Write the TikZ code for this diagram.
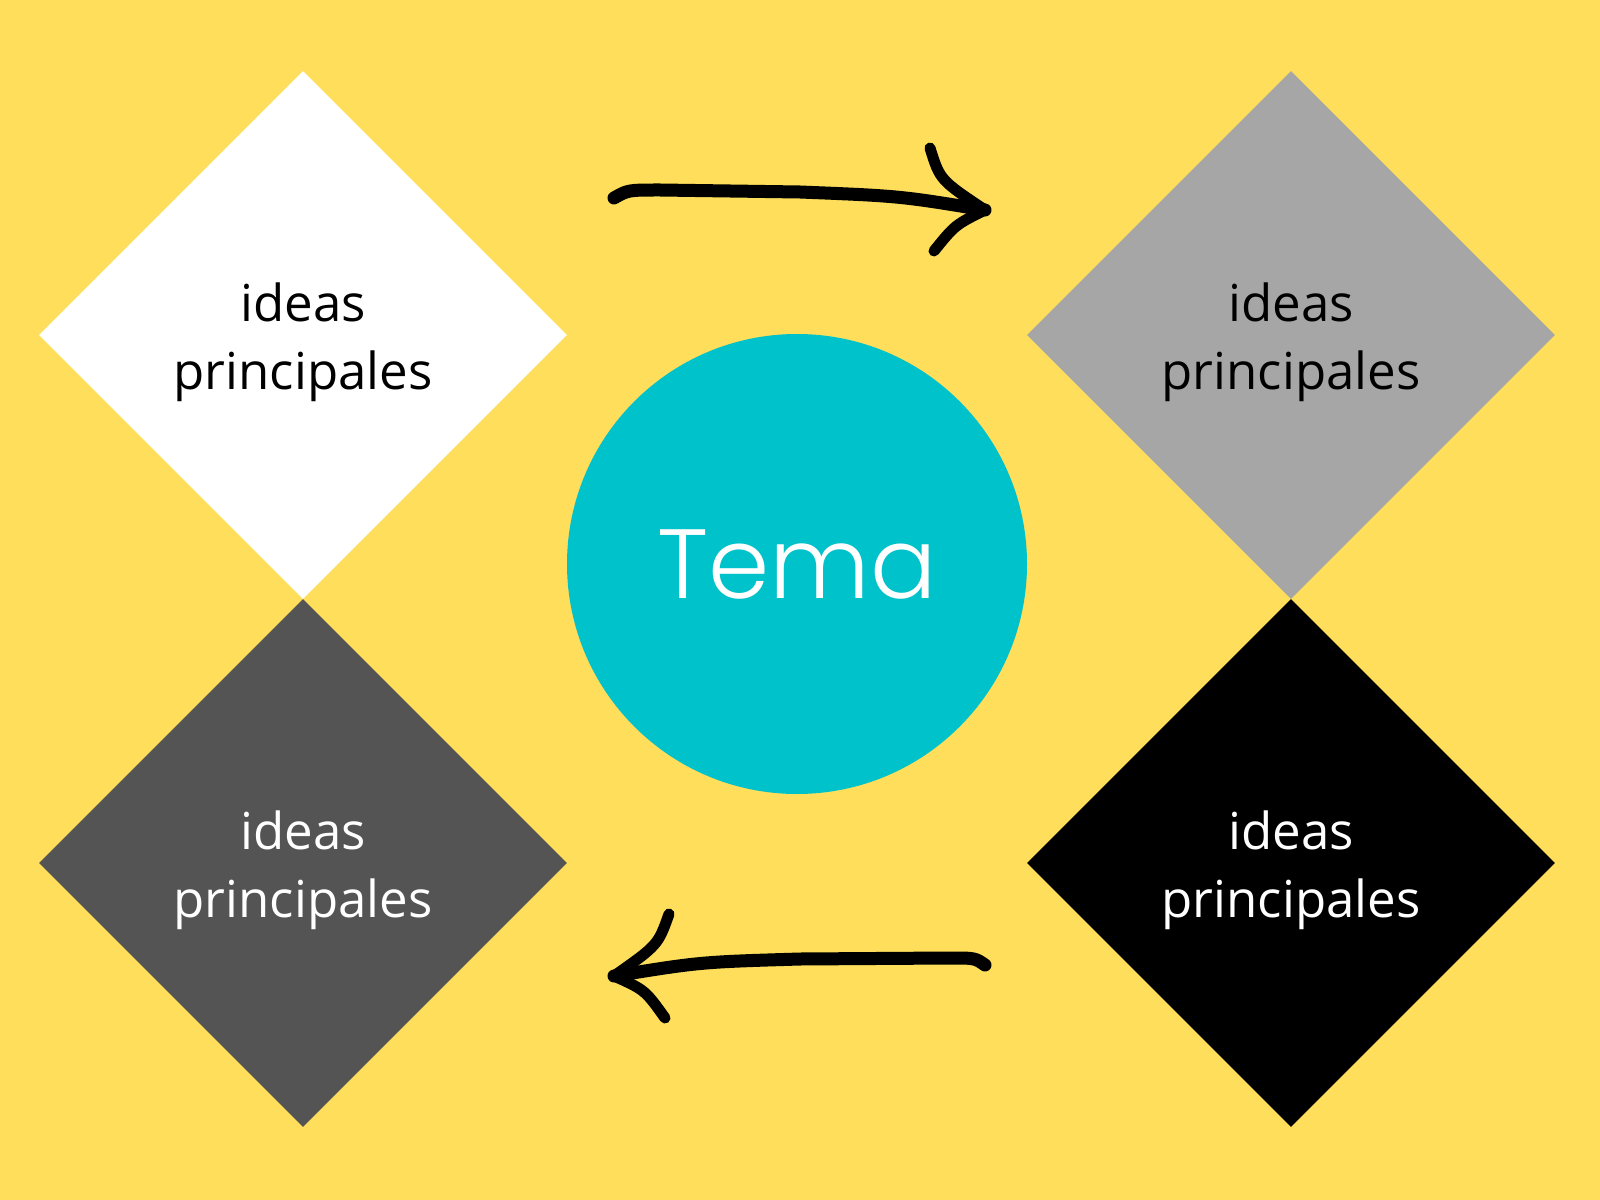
\documentclass[tikz,border=0pt]{standalone}
\usepackage{fontspec}
\newfontfamily\ideafont{Open Sans}
\newfontfamily\temafont{Poppins}[UprightFont=* Light]
\usetikzlibrary{shapes.geometric, calc, positioning}
\definecolor{bgyellow}{HTML}{FEDE5B}
\definecolor{temacyan}{HTML}{00C2CB}
\definecolor{lightgrey}{HTML}{A6A6A6}
\definecolor{darkgrey}{HTML}{545454}

\begin{document}
\begin{tikzpicture}[x=0.2mm, y=-0.2mm,
		idea/.style={diamond, aspect=1, inner sep=0pt, minimum width=105.6mm, minimum height=105.6mm},
		ideatext/.style={align=center, font=\ideafont\fontsize{29}{38.7}\selectfont},
		brush/.style={line width=2.6mm, line cap=round, line join=round}]
				% Background
				\fill[bgyellow] (0,0) rectangle (1600,1200);
				
				% Diamonds
				\foreach \name/\x/\y/\bg/\fg in {tl/303/335/white/black, tr/1291/335/lightgrey/black,
					bl/303/863/darkgrey/white, br/1291/863/black/white}
				{
					\node[idea, fill=\bg] (\name) at (\x,\y) {};
					\node[ideatext, text=\fg] (\name-text) at ([yshift=-1.5mm]\name.center) {ideas\\principales};
				}
				
				% Centre
				\node[circle, fill=temacyan, minimum size=92mm, inner sep=0pt, text=white,
					font=\temafont\fontsize{56}{60}\selectfont] (tema) at (797,564) {Tema};
				
				% Arrows
				\coordinate (topstart) at (614,198);
				\coordinate (toptip) at (985,210);
				\coordinate (topup) at (930,148);
				\coordinate (topdown) at (934,251);
				\draw[brush] (topstart) .. controls (628,190) .. (660,190) -- (800,192) .. controls (900,196) .. (toptip);
				\draw[brush, line width=2.2mm] (topup) .. controls (940,180) .. (toptip) .. controls (955,225) .. (topdown);
				
				\coordinate (botstart) at (985,965);
				\coordinate (bottip) at (614,976);
				\coordinate (botup) at (669,914);
				\coordinate (botdown) at (665,1018);
				\draw[brush] (botstart) .. controls (975,958) .. (950,958) -- (800,959) .. controls (700,962) .. (bottip);
				\draw[brush, line width=2.2mm] (botup) .. controls (658,945) .. (bottip) .. controls (645,990) .. (botdown);
			\end{tikzpicture}
\end{document}
